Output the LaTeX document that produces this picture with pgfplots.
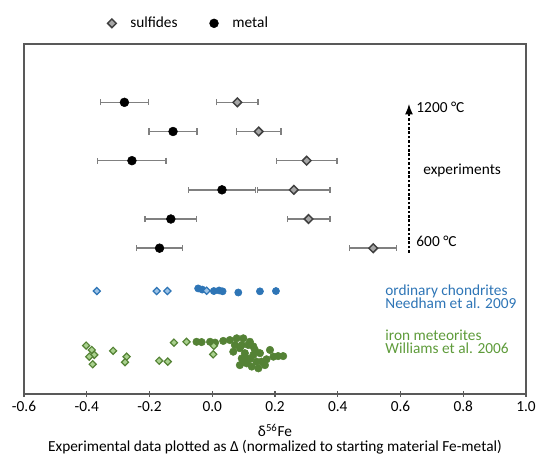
\documentclass[border=0pt]{standalone}
\usepackage{pgfplots}
\pgfplotsset{compat=1.18}
\usepackage{fontspec}
\setmainfont{Carlito}
\usetikzlibrary{arrows.meta}
\definecolor{axisgray}{HTML}{595959}
\definecolor{errgray}{HTML}{808080}
\definecolor{sulffill}{HTML}{A6A6A6}
\definecolor{sulfdraw}{HTML}{404040}
\definecolor{ocblue}{HTML}{2E75B6}
\definecolor{oclight}{HTML}{9DC3E6}
\definecolor{irongreen}{HTML}{548235}
\definecolor{ironlight}{HTML}{A9D18E}
\definecolor{irontext}{HTML}{5E9B3A}

\begin{document}
\begin{tikzpicture}[font=\fontsize{11.5}{13}\selectfont]
\begin{axis}[
  width=376.5pt, height=262.5pt, scale only axis,
  xmin=-0.6, xmax=1.0, ymin=0, ymax=12,
  xtick={-0.6,-0.4,-0.2,0,0.2,0.4,0.6,0.8,1.0},
  ytick=\empty,
  xtick pos=bottom, xtick align=center,
  major tick length=4pt,
  tick style={axisgray, line width=1pt},
  axis line style={axisgray, line width=1.1pt},
  xticklabel style={/pgf/number format/.cd, fixed, fixed zerofill, precision=1, assume math mode=true},
  xlabel={δ\textsuperscript{56}Fe\\Experimental data plotted as Δ (normalized to starting material Fe-metal)},
  xlabel style={align=center, font=\fontsize{11.5}{11}\selectfont, yshift=-2pt},
  legend style={at={(0.158,1.025)}, anchor=south west, draw=none, fill=none,
    legend columns=2,
    /tikz/every odd column/.append style={column sep=8.5pt},
    /tikz/every even column/.append style={column sep=22pt}},
  clip=false,
]
% legend entries
\addlegendimage{only marks, mark=square*, mark options={rotate=45, fill=sulffill, draw=sulfdraw, line width=1.1pt}, mark size=2.3pt}
\addlegendentry{sulfides}
\addlegendimage{only marks, mark=*, mark options={fill=black, draw=black}, mark size=3.3pt}
\addlegendentry{metal}

% iron meteorites, Williams et al. 2006
\addplot[forget plot, only marks, mark=*, mark size=2.8pt, mark options={fill=irongreen, draw=irongreen}] coordinates {
(-0.050,1.79) (-0.034,1.78) (-0.007,1.79) (0.009,1.76) (0.035,1.82) (0.056,1.85) (0.078,1.91)
(0.099,1.91) (0.120,1.79) (0.088,1.57) (0.104,1.40) (0.094,1.22) (0.110,1.05) (0.126,0.94)
(0.141,1.11) (0.152,1.40) (0.173,1.19) (0.184,1.51) (0.210,1.30) (0.088,0.99) (0.131,1.63)
(0.147,0.88) (0.168,0.99) (0.072,1.68) (0.067,1.45) (0.115,1.68) (0.094,1.68) (0.195,1.28)
(0.226,1.30) (0.110,1.22) (0.131,1.34) (0.157,1.11) (0.136,1.51) (0.120,1.20) (0.100,1.10)
};
\addplot[forget plot, only marks, mark=square*, mark size=1.9pt, mark options={rotate=45, fill=ironlight, draw=irongreen, line width=0.9pt}] coordinates {
(-0.402,1.66) (-0.384,1.51) (-0.376,1.34) (-0.392,1.28) (-0.381,1.02) (-0.316,1.48)
(-0.273,1.28) (-0.278,1.09) (-0.169,1.14) (-0.142,1.11) (-0.122,1.76) (-0.082,1.79)
(0.005,1.65) (0.003,1.36)
};

% ordinary chondrites, Needham et al. 2009
\addplot[forget plot, only marks, mark=*, mark size=2.7pt, mark options={fill=ocblue, draw=ocblue}] coordinates {
(-0.045,3.62) (-0.032,3.58) (0.005,3.53) (0.022,3.55) (0.033,3.52) (0.083,3.48) (0.152,3.52) (0.203,3.53)
};
\addplot[forget plot, only marks, mark=square*, mark size=1.9pt, mark options={rotate=45, fill=oclight, draw=ocblue, line width=0.9pt}] coordinates {
(-0.368,3.53) (-0.177,3.53) (-0.143,3.53) (-0.018,3.54)
};

% experiments: metal
\addplot[forget plot, only marks, mark=*, mark size=3.3pt, mark options={fill=black, draw=black},
  error bars/.cd, x dir=both, x explicit,
  error bar style={errgray, line width=1.1pt},
  error mark options={rotate=90, errgray, mark size=2.3pt, line width=1.1pt}]
table[x=x, y=y, x error=ex] {
x      y   ex
-0.280 10  0.076
-0.125 9   0.077
-0.256 8   0.109
0.031  7   0.107
-0.132 6   0.082
-0.168 5   0.074
};
% experiments: sulfides
\addplot[forget plot, only marks, mark=square*, mark size=2.3pt, mark options={rotate=45, fill=sulffill, draw=sulfdraw, line width=1.1pt},
  error bars/.cd, x dir=both, x explicit,
  error bar style={errgray, line width=1.1pt},
  error mark options={rotate=90, errgray, mark size=2.3pt, line width=1.1pt}]
table[x=x, y=y, x error=ex] {
x      y   ex
0.080  10  0.066
0.148  9   0.071
0.301  8   0.097
0.260  7   0.115
0.307  6   0.068
0.513  5   0.075
};

% annotations
\draw[line width=1.2pt, dash pattern=on 2pt off 1.3pt, -{Latex[length=8pt,width=6pt]}]
  (axis cs:0.627,4.84) -- (axis cs:0.627,9.95);
\node[anchor=west, inner sep=0pt] at (axis cs:0.650,9.83) {1200 °C};
\node[anchor=west, inner sep=0pt] at (axis cs:0.672,7.66) {experiments};
\node[anchor=west, inner sep=0pt] at (axis cs:0.650,5.25) {600 °C};
\node[anchor=west, inner sep=0pt, text=ocblue, align=left, font=\fontsize{11.5}{10}\selectfont] at (axis cs:0.551,3.34) {ordinary chondrites\\Needham et al. 2009};
\node[anchor=west, inner sep=0pt, text=irontext, align=left, font=\fontsize{11.5}{10}\selectfont] at (axis cs:0.551,1.80) {iron meteorites\\Williams et al. 2006};

\coordinate (bbSW) at (rel axis cs:-0.0478,-0.1857);
\coordinate (bbNE) at (rel axis cs:1.0219,1.1257);
\end{axis}
\pgfresetboundingbox
\path[use as bounding box] (bbSW) rectangle (bbNE);
\end{tikzpicture}
\end{document}
